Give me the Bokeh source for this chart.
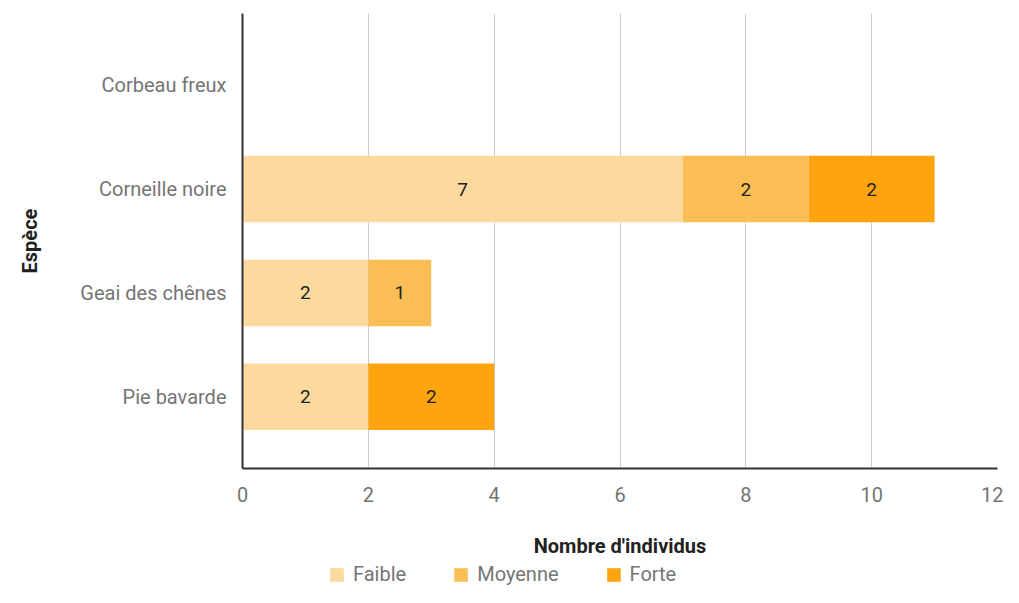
from bokeh.plotting import figure
from bokeh.layouts import column
from bokeh.models import (ColumnDataSource, FactorRange, FixedTicker, Legend, LegendItem,
                          LabelSet)
from bokeh.core.properties import value
from bokeh.embed import file_html
from bokeh.resources import INLINE

species = ["Corbeau freux", "Corneille noire", "Geai des chênes", "Pie bavarde"]
levels = ["Faible", "Moyenne", "Forte"]
faible = [0, 7, 2, 2]
moyenne = [0, 2, 1, 0]
forte = [0, 2, 0, 2]
colors = ["#FCD99C", "#FBBE55", "#FDA40E"]
x_ticks = [0, 2, 4, 6, 8, 10, 12]

FONT = "Roboto"

src = ColumnDataSource(dict(species=species, Faible=faible, Moyenne=moyenne, Forte=forte))

p = figure(width=1003, height=561, output_backend="svg", toolbar_location=None,
           y_range=FactorRange(*list(reversed(species)), range_padding=0.19,
                               range_padding_units="absolute"),
           x_range=(0, 12), min_border_left=242, min_border_right=6,
           min_border_top=13, min_border_bottom=93)
p.outline_line_color = None

rs = p.hbar_stack(levels, y="species", height=0.64, color=colors, source=src, line_color=None)

# value labels
lx, ly, lt = [], [], []
for i, s in enumerate(species):
    left = 0
    for vals in (faible, moyenne, forte):
        v = vals[i]
        if v > 0:
            lx.append(left + v / 2)
            ly.append(s)
            lt.append(str(v))
        left += v
lsrc = ColumnDataSource(dict(x=lx, y=ly, t=lt))
p.add_layout(LabelSet(x="x", y="y", text="t", source=lsrc, text_align="center",
                      text_baseline="middle", text_font=value(FONT),
                      text_font_size=value("19px"), text_color="#222222"))

p.xaxis.ticker = FixedTicker(ticks=x_ticks)
p.xgrid.ticker = FixedTicker(ticks=x_ticks)
p.xgrid.grid_line_color = "#cccccc"
p.ygrid.grid_line_color = None

for ax in (p.xaxis[0], p.yaxis[0]):
    ax.axis_line_color = "#333333"
    ax.axis_line_width = 2
    ax.major_tick_line_color = None
    ax.minor_tick_line_color = None
    ax.major_label_text_font = FONT
    ax.major_label_text_font_size = "20px"
    ax.major_label_text_color = "#757575"
    ax.axis_label_text_font = FONT
    ax.axis_label_text_font_size = "20px"
    ax.axis_label_text_font_style = "bold"
    ax.axis_label_text_color = "#222222"

p.xaxis.axis_label = "Nombre d'individus"
p.yaxis.axis_label = "Espèce"
p.xaxis.major_label_standoff = 12
p.xaxis.axis_label_standoff = 29
p.yaxis.major_label_standoff = 10
p.yaxis.axis_label_standoff = 35

# legend strip below the chart (same series, zero-height bars so nothing shows)
pl = figure(width=1003, height=26, output_backend="svg", toolbar_location=None,
            y_range=FactorRange(*species), x_range=(0, 12),
            min_border_left=0, min_border_right=0, min_border_top=0, min_border_bottom=0)
pl.outline_line_color = None
pl.axis.visible = False
pl.grid.grid_line_color = None
rl = pl.hbar_stack(levels, y="species", height=0, color=colors, source=src, line_color=None)

legend = Legend(items=[LegendItem(label=l, renderers=[r]) for l, r in zip(levels, rl)],
                orientation="horizontal", location=(86, 1), padding=0, margin=0,
                border_line_color=None, background_fill_alpha=0,
                glyph_width=17, glyph_height=17, label_standoff=8, spacing=46,
                label_text_font=FONT, label_text_font_size="20px",
                label_text_color="#757575")
pl.add_layout(legend, "center")

open("out.html", "w").write(file_html(column(p, pl), INLINE))
